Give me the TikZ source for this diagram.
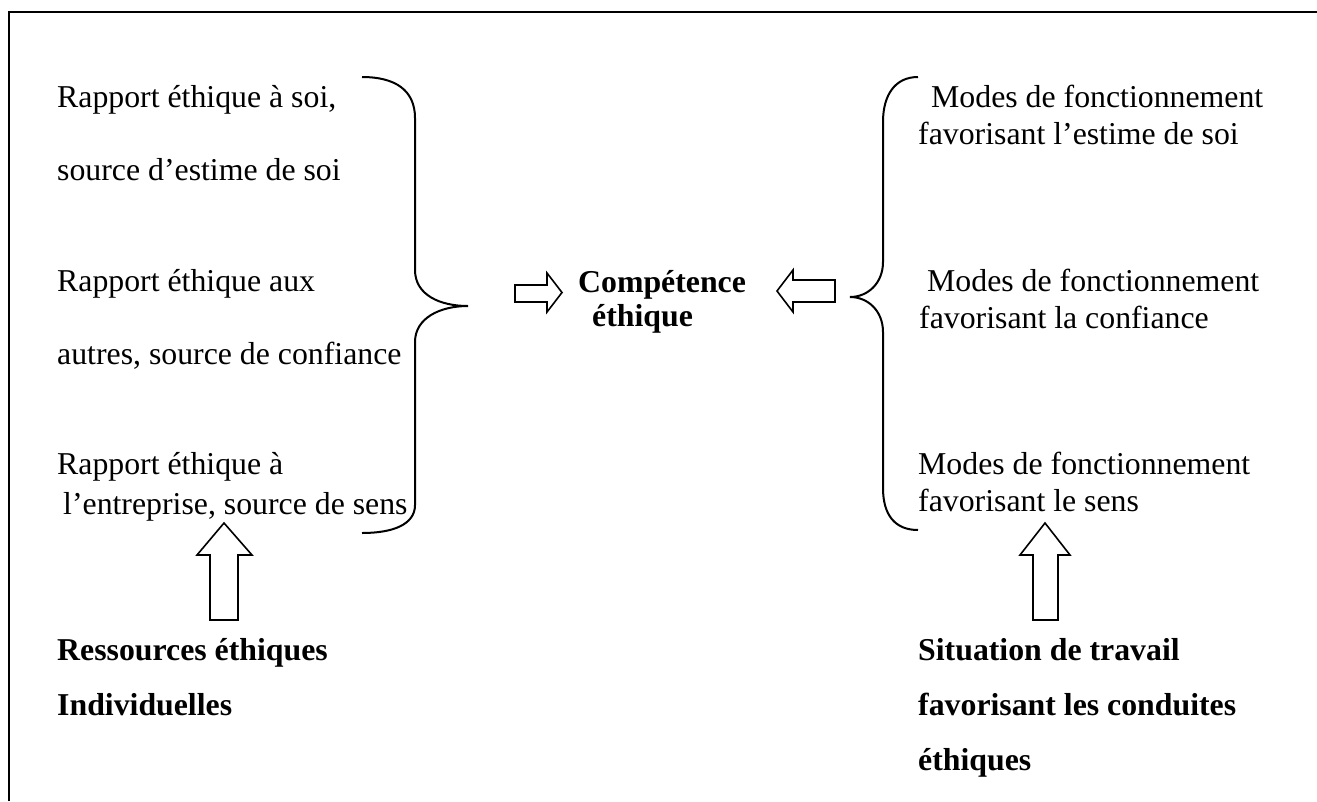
\documentclass[tikz,border=0pt]{standalone}
\usepackage{fontspec}
\setmainfont{Liberation Serif}
\begin{document}
\begin{tikzpicture}[x=1pt,y=-1pt,
  txt/.style={anchor=base west,inner sep=0pt,font=\fontsize{31.8}{38}\selectfont},
  btxt/.style={txt,font=\fontsize{31.8}{38}\selectfont\bfseries},
  frameline/.style={line width=2pt,black},
  bracestyle/.style={line width=2pt,black},
  blockarrow/.style={line width=1.6pt,black,fill=white,line join=miter}]
\useasboundingbox (0,0) rectangle (1317,801);
% frame
\draw[frameline] (9,801) -- (9,12) -- (1317,12);
% left texts
\node[txt] (l1) at (57,107) {Rapport éthique à soi,};
\node[txt] (l2) at (57,180) {source d’estime de soi};
\node[txt] (l3) at (57,291) {Rapport éthique aux};
\node[txt] (l4) at (57,364) {autres, source de confiance};
\node[txt] (l5) at (57,474) {Rapport éthique à};
\node[txt] (l6) at (63,514) {l’entreprise, source de sens};
% right texts
\node[txt] (r1) at (931,107) {Modes de fonctionnement};
\node[txt] (r2) at (918,144) {favorisant l’estime de soi};
\node[txt] (r3) at (927,291) {Modes de fonctionnement};
\node[txt] (r4) at (919,328) {favorisant la confiance};
\node[txt] (r5) at (918,474) {Modes de fonctionnement};
\node[txt] (r6) at (918,511) {favorisant le sens};
% centre
\node[btxt] (c1) at (578,292) {Compétence};
\node[btxt] (c2) at (592,326) {éthique};
% bottom
\node[btxt] (b1) at (57,660) {Ressources éthiques};
\node[btxt] (b2) at (57,715) {Individuelles};
\node[btxt] (b3) at (918,660) {Situation de travail};
\node[btxt] (b4) at (918,715) {favorisant les conduites};
\node[btxt] (b5) at (918,770) {éthiques};
% left brace
\draw[bracestyle] (362,77) .. controls (395,77) and (415,90) .. (415,118)
  -- (415,270) .. controls (415,295) and (440,306) .. (468,306)
  .. controls (440,306) and (415,318) .. (415,342)
  -- (415,505) .. controls (415,525) and (392,533) .. (362,533);
% right brace
\draw[bracestyle] (918,77) .. controls (895,77) and (883,95) .. (883,122)
  -- (883,262) .. controls (883,283) and (868,297) .. (850,297)
  .. controls (868,297) and (883,311) .. (883,332)
  -- (883,488) .. controls (883,515) and (895,530) .. (918,530);
% right-pointing block arrow
\draw[blockarrow] (515,285) -- (547,285) -- (547,273) -- (562,292.5) -- (547,312) -- (547,302) -- (515,302) -- cycle;
% left-pointing block arrow
\draw[blockarrow] (835,280) -- (793,280) -- (793,270) -- (777,291) -- (793,312) -- (793,302) -- (835,302) -- cycle;
% up arrows
\draw[blockarrow] (210,620) -- (210,555) -- (197,555) -- (224,523) -- (252,555) -- (238,555) -- (238,620) -- cycle;
\draw[blockarrow] (1033,620) -- (1033,555) -- (1020,555) -- (1045,523) -- (1070,555) -- (1058,555) -- (1058,620) -- cycle;
\end{tikzpicture}
\end{document}
